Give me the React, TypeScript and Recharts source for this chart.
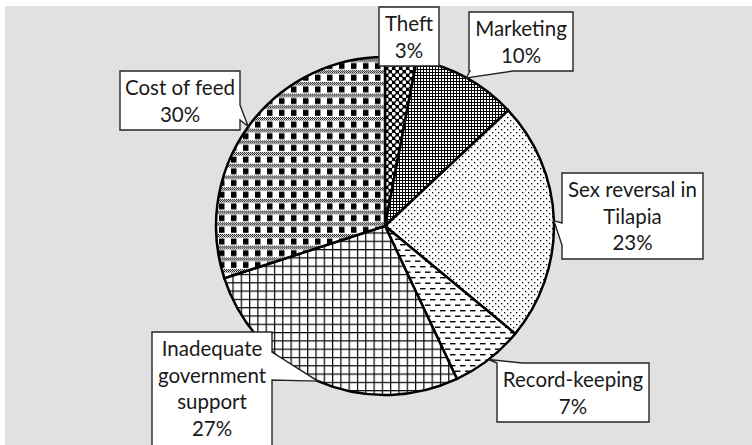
import React from "react";
import { PieChart, Pie, Cell } from "recharts";

const categories = [
  "Theft",
  "Marketing",
  "Sex reversal in Tilapia",
  "Record-keeping",
  "Inadequate government support",
  "Cost of feed",
];
const shares = [3, 10, 23, 7, 27, 30];
const labelLines = [
  ["Theft"],
  ["Marketing"],
  ["Sex reversal in", "Tilapia"],
  ["Record-keeping"],
  ["Inadequate", "government", "support"],
  ["Cost of feed"],
];

const data = categories.map((name, i) => ({ name, value: shares[i], lines: labelLines[i] }));

type Side = "top" | "right" | "bottom" | "left" | "none";
const callouts: { x: number; y: number; w: number; h: number; side: Side; b1: number; b2: number }[] = [
  { x: 379, y: 7, w: 60, h: 59, side: "none", b1: 0, b2: 0 },
  { x: 469, y: 12, w: 104, h: 59, side: "bottom", b1: 470, b2: 513 },
  { x: 562, y: 173, w: 141, h: 86, side: "left", b1: 223, b2: 245 },
  { x: 497, y: 363, w: 152, h: 59, side: "top", b1: 497, b2: 522 },
  { x: 152, y: 332, w: 120, h: 130, side: "right", b1: 352, b2: 380 },
  { x: 120, y: 71, w: 120, h: 59, side: "right", b1: 105, b2: 120 },
];

const FONT = "Lato, 'Open Sans', sans-serif";
const FONT_SIZE = 20.5;
const LINE_H = 26.5;
const RAD = Math.PI / 180;

function calloutPath(b: (typeof callouts)[number], tx: number, ty: number) {
  const { x, y, w, h, side, b1, b2 } = b;
  const r = x + w;
  const bt = y + h;
  let d = `M${x},${y}`;
  if (side === "top") d += ` L${b1},${y} L${tx},${ty} L${b2},${y}`;
  d += ` L${r},${y}`;
  if (side === "right") d += ` L${r},${b1} L${tx},${ty} L${r},${b2}`;
  d += ` L${r},${bt}`;
  if (side === "bottom") d += ` L${b2},${bt} L${tx},${ty} L${b1},${bt}`;
  d += ` L${x},${bt}`;
  if (side === "left") d += ` L${x},${b2} L${tx},${ty} L${x},${b1}`;
  d += " Z";
  return d;
}

const renderLabel = (props: any) => {
  const { cx, cy, midAngle, outerRadius, index, payload, value } = props;
  const b = callouts[index];
  const tx = cx + outerRadius * Math.cos(-midAngle * RAD);
  const ty = cy + outerRadius * Math.sin(-midAngle * RAD);
  const lines: string[] = [...(payload?.lines ?? labelLines[index]), `${value}%`];
  const mx = b.x + b.w / 2;
  return (
    <g key={`lbl-${index}`}>
      <path d={calloutPath(b, tx, ty)} fill="#ffffff" stroke="#262626" strokeWidth={1.4} />
      {lines.map((t, i) => (
        <text
          key={i}
          x={mx}
          y={b.y + 24 + i * LINE_H}
          textAnchor="middle"
          fontFamily={FONT}
          fontSize={FONT_SIZE}
          fill="#1a1a1a"
        >
          {t}
        </text>
      ))}
    </g>
  );
};

const Patterns = () => (
  <svg width={0} height={0} style={{ position: "absolute" }}>
    <defs>
      <pattern id="checker" width={2} height={2} patternUnits="userSpaceOnUse">
        <rect width={2} height={2} fill="#fff" />
        <rect x={0} y={0} width={1} height={1} fill="#000" />
        <rect x={1} y={1} width={1} height={1} fill="#000" />
      </pattern>
      {/* Theft: white spheres on black */}
      <pattern id="pat0" width={7} height={7} patternUnits="userSpaceOnUse">
        <rect width={7} height={7} fill="#000" />
        <circle cx={1.75} cy={1.75} r={1.9} fill="#fff" />
        <circle cx={5.25} cy={5.25} r={1.9} fill="#fff" />
      </pattern>
      {/* Marketing: dense dark grid */}
      <pattern id="pat1" width={3} height={3} patternUnits="userSpaceOnUse">
        <rect width={3} height={3} fill="#fff" />
        <rect x={0} y={0} width={3} height={1} fill="#000" />
        <rect x={0} y={0} width={1} height={3} fill="#000" />
      </pattern>
      {/* Sex reversal: sparse dots */}
      <pattern id="pat2" width={6} height={6} patternUnits="userSpaceOnUse">
        <rect width={6} height={6} fill="#fff" />
        <rect x={0} y={0} width={1.3} height={1.3} fill="#000" />
        <rect x={3} y={3} width={1.3} height={1.3} fill="#000" />
      </pattern>
      {/* Record-keeping: dashes */}
      <pattern id="pat3" width={10} height={11} patternUnits="userSpaceOnUse">
        <rect width={10} height={11} fill="#fff" />
        <rect x={0} y={2} width={5.5} height={1.4} fill="#000" />
        <rect x={5} y={7.5} width={5} height={1.4} fill="#000" />
        <rect x={0} y={7.5} width={0.5} height={1.4} fill="#000" />
      </pattern>
      {/* Inadequate: grid */}
      <pattern id="pat4" width={8.3} height={8.3} patternUnits="userSpaceOnUse">
        <rect width={8.3} height={8.3} fill="#fff" />
        <rect x={0} y={0} width={8.3} height={1.2} fill="#000" />
        <rect x={0} y={0} width={1.2} height={8.3} fill="#000" />
      </pattern>
      {/* Cost of feed: plaid */}
      <pattern id="pat5" width={12} height={11.7} patternUnits="userSpaceOnUse">
        <rect width={12} height={11.7} fill="#fff" />
        <rect x={0} y={0} width={12} height={3.5} fill="url(#checker)" />
        <rect x={3} y={4.5} width={5.5} height={6} fill="#000" />
      </pattern>
    </defs>
  </svg>
);

export default function App() {
  return (
    <div style={{ position: "absolute", left: 0, top: 0, width: 752, height: 445, background: "#fff", overflow: "hidden" }}>
      <Patterns />
      <div style={{ position: "absolute", left: 5, top: 6, width: 747, height: 439, background: "#e1e1e1" }} />
      <div style={{ position: "absolute", left: 0, top: 0 }}>
        <PieChart width={752} height={445} margin={{ top: 0, right: 0, bottom: 0, left: 0 }}>
          <Pie
            data={data}
            dataKey="value"
            nameKey="name"
            cx={385}
            cy={226}
            outerRadius={169}
            startAngle={90}
            endAngle={-270}
            stroke="#000"
            strokeWidth={2.5}
            label={renderLabel}
            labelLine={false}
            isAnimationActive={false}
          >
            {data.map((_, i) => (
              <Cell key={i} fill={`url(#pat${i})`} />
            ))}
          </Pie>
        </PieChart>
      </div>
    </div>
  );
}
